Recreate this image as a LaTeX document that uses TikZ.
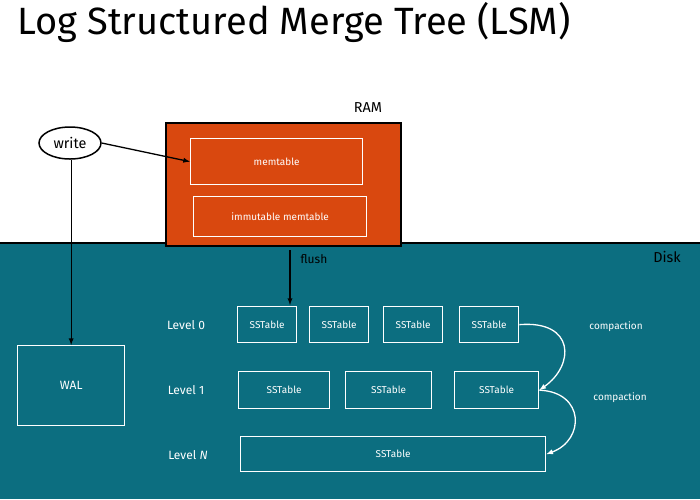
\documentclass[tikz,border=0pt]{standalone}
\usepackage{fontspec}
\setmainfont{Fira Sans}
\usetikzlibrary{shapes.geometric}
\definecolor{ram}{HTML}{D9480F}
\definecolor{disk}{HTML}{0C6E80}
\begin{document}
\begin{tikzpicture}[x=1pt,y=-1pt,
  wbox/.style={draw=white,line width=1.3pt,text=white,font=\normalsize,inner sep=0pt,anchor=north west},
  lbl/.style={text=white,font=\large},
  arr/.style={-latex,line width=1.3pt}]
\useasboundingbox (0,0) rectangle (700,499);
\fill[white] (0,0) rectangle (700,499);
\node[anchor=west,font=\fontsize{38}{42}\selectfont] (title) at (14,22) {Log Structured Merge Tree (LSM)};
% disk
\fill[disk] (0,243) rectangle (700,499);
\draw[line width=1.3pt] (0,243) -- (700,243);
\node[font=\Large] (disk) at (667,257) {Disk};
% ram
\node[draw=black,line width=1.6pt,fill=ram,minimum width=235pt,minimum height=123pt,anchor=north west,inner sep=0pt] (ram) at (165,122) {};
\node[font=\Large] (ramlbl) at (368,108) {RAM};
\node[wbox,minimum width=172pt,minimum height=46pt] (mem) at (190,138) {memtable};
\node[wbox,minimum width=173pt,minimum height=40pt] (imm) at (193,196) {immutable memtable};
% write
\node[draw,ellipse,line width=1.5pt,minimum width=62pt,minimum height=32pt,inner sep=1pt,font=\Large] (write) at (70,143) {write};
\node[wbox,minimum width=107pt,minimum height=80pt,font=\large] (wal) at (17,345) {WAL};
\draw[arr] (write.south -| wal.north) -- (wal.north);
\draw[arr] (write.east) -- (mem.west);
% levels
\node[lbl] (l0) at (186,325) {Level 0};
\node[lbl] (l1) at (186,390) {Level 1};
\node[lbl] (ln) at (188,455) {Level \textit{N}};
\node[wbox,minimum width=59pt,minimum height=36pt] (a1) at (237,306) {SSTable};
\node[wbox,minimum width=59pt,minimum height=36pt] (a2) at (309,306) {SSTable};
\node[wbox,minimum width=59pt,minimum height=36pt] (a3) at (383,306) {SSTable};
\node[wbox,minimum width=59pt,minimum height=36pt] (a4) at (459,306) {SSTable};
\node[wbox,minimum width=91pt,minimum height=37pt] (b1) at (238,371) {SSTable};
\node[wbox,minimum width=86pt,minimum height=37pt] (b2) at (345,371) {SSTable};
\node[wbox,minimum width=84pt,minimum height=37pt] (b3) at (454,371) {SSTable};
\node[wbox,minimum width=305pt,minimum height=35pt] (c1) at (240,436) {SSTable};
% flush
\coordinate (fl) at (290,250);
\draw[arr] (fl) -- (290,305);
\node[font=\large] (flush) at (314,259) {flush};
% compaction
\draw[arr,white] (a4.east) .. controls (575,320) and (575,365) .. (b3.east);
\node[lbl,font=\normalsize] (cp1) at (616,327) {compaction};
\draw[arr,white] (b3.east) .. controls (585,392) and (585,440) .. (c1.east);
\node[lbl,font=\normalsize] (cp2) at (620,398) {compaction};
\end{tikzpicture}
\end{document}
